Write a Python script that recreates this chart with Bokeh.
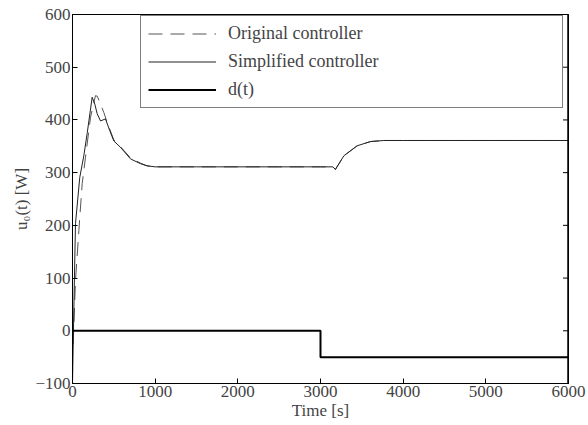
import math
from bokeh.plotting import figure
from bokeh.models import Legend, LegendItem, FixedTicker, Range1d, Span
from bokeh.embed import file_html
from bokeh.resources import INLINE

# Data
t_simpl = [0, 15, 36, 88, 137, 177, 238, 270, 298, 339, 399, 450, 500, 581, 702, 823, 900, 1000,
           1500, 2000, 2500, 3000, 3150, 3180, 3283, 3444, 3606, 3767, 4000, 5000, 6000]
u_simpl = [-100, 30, 203, 291, 332, 374, 443, 430, 412, 398, 402, 380, 360, 348, 326, 317, 313, 311,
           311, 311, 311, 311, 311, 306, 332, 351, 359, 361, 361, 361, 361]

t_orig = [8, 36, 77, 117, 157, 218, 278, 300, 339, 379, 420, 500, 581, 702, 823, 900, 1000,
          1500, 2000, 2500, 3000, 3150, 3180, 3283, 3444, 3606, 3767, 4000, 5000, 6000]
u_orig = [-25, 95, 190, 279, 329, 405, 446, 445, 430, 414, 395, 362, 349, 328, 318, 313, 311,
          311, 311, 311, 311, 311, 306, 332, 351, 359, 361, 361, 361, 361]

t_d = [0, 3000, 3000, 6000]
d_vals = [0, 0, -50, -50]

x_ticks = [0, 1000, 2000, 3000, 4000, 5000, 6000]
y_ticks = [-100, 0, 100, 200, 300, 400, 500, 600]
x_min, x_max = 0, 6000
y_min, y_max = -100, 600

FONT = "Liberation Serif"

p = figure(width=588, height=425, output_backend="svg", toolbar_location=None,
           x_range=Range1d(x_min, x_max), y_range=Range1d(y_min, y_max),
           min_border_left=72, min_border_right=20, min_border_top=14, min_border_bottom=42)
p.grid.visible = False
p.outline_line_color = "black"
p.outline_line_width = 1

r1 = p.line(t_orig, u_orig, line_color="#555555", line_width=1, line_dash="14 8")
r2 = p.line(t_simpl, u_simpl, line_color="#222222", line_width=1)
r3 = p.line(t_d, d_vals, line_color="black", line_width=2)

# box edges on top and right (right edge nudged just inside the clip area), inward ticks
right_edge = x_max * 0.999
p.add_layout(Span(location=y_max, dimension="width", line_color="black", line_width=1))
p.add_layout(Span(location=right_edge, dimension="height", line_color="black", line_width=1.5))
p.scatter([right_edge] * len(y_ticks), y_ticks, marker="dash", size=10, line_color="black",
          line_width=1)
p.scatter(x_ticks, [y_max] * len(x_ticks), marker="dash", angle=math.pi / 2, size=10,
          line_color="black", line_width=1)

for ax in p.xaxis:
    ax.ticker = FixedTicker(ticks=x_ticks)
    ax.axis_label = "Time [s]"
for ax in p.yaxis:
    ax.ticker = FixedTicker(ticks=y_ticks)
    ax.axis_label = "u\u2080(t) [W]"

for ax in list(p.xaxis) + list(p.yaxis):
    ax.major_tick_in = 5
    ax.major_tick_out = 0
    ax.minor_tick_line_color = None
    ax.major_label_text_font = FONT
    ax.major_label_text_font_size = "17px"
    ax.axis_label_text_font = FONT
    ax.axis_label_text_font_size = "17px"
    ax.axis_label_text_font_style = "normal"
    ax.major_label_standoff = 2
    ax.axis_label_standoff = 1
    ax.axis_line_color = "black"

legend = Legend(items=[
    LegendItem(label="Original controller", renderers=[r1]),
    LegendItem(label="Simplified controller", renderers=[r2]),
    LegendItem(label="d(t)", renderers=[r3]),
], location=(68, 275))
legend.label_text_font = FONT
legend.label_text_font_size = "18px"
legend.glyph_width = 68
legend.label_standoff = 12
legend.padding = 7
legend.margin = 0
legend.spacing = 7
legend.label_height = 21
legend.glyph_height = 21
legend.label_width = 327
legend.border_line_color = "black"
legend.border_line_width = 1
legend.background_fill_alpha = 1
p.add_layout(legend, "center")

open("out.html", "w").write(file_html(p, INLINE))
